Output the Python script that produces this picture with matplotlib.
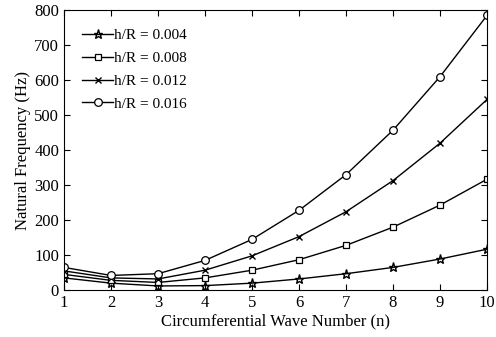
import numpy as np
import matplotlib.pyplot as plt

plt.rcParams['font.family'] = ['Liberation Serif', 'DejaVu Serif']
plt.rcParams['mathtext.fontset'] = 'stix'

n = [1, 2, 3, 4, 5, 6, 7, 8, 9, 10]
f_004 = [35, 20, 12, 13, 20, 32, 47, 65, 89, 117]
f_008 = [45, 28, 22, 35, 57, 87, 128, 180, 243, 317]
f_012 = [55, 35, 32, 57, 98, 153, 224, 313, 420, 545]
f_016 = [65, 42, 47, 85, 145, 228, 330, 457, 610, 785]
labels = ['h/R = 0.004', 'h/R = 0.008', 'h/R = 0.012', 'h/R = 0.016']

fig = plt.figure(figsize=(4.96, 3.37), dpi=100)
ax = fig.add_axes([0.129, 0.139, 0.853, 0.831])

ax.plot(n, f_004, 'k-*', lw=1.0, ms=6.5, mfc='none', mew=1.0, label=labels[0])
ax.plot(n, f_008, 'k-s', lw=1.0, ms=4.5, mfc='white', mew=0.9, label=labels[1])
ax.plot(n, f_012, 'k-x', lw=1.0, ms=4, mew=1.0, label=labels[2])
ax.plot(n, f_016, 'k-o', lw=1.0, ms=5.5, mfc='white', mew=0.9, label=labels[3])

ax.set_xlim(1, 10)
ax.set_ylim(0, 800)
ax.set_xticks(range(1, 11))
ax.set_yticks(range(0, 801, 100))
ax.tick_params(direction='in', top=True, right=True, labelsize=12, length=4)
ax.set_xlabel('Circumferential Wave Number (n)', fontsize=12, labelpad=2)
ax.set_ylabel('Natural Frequency (Hz)', fontsize=12, labelpad=2)
ax.legend(loc='upper left', frameon=False, fontsize=11, handlelength=2.0,
          handletextpad=0.1, labelspacing=0.6, borderaxespad=0.8)

fig.savefig('out.png', dpi=100)
